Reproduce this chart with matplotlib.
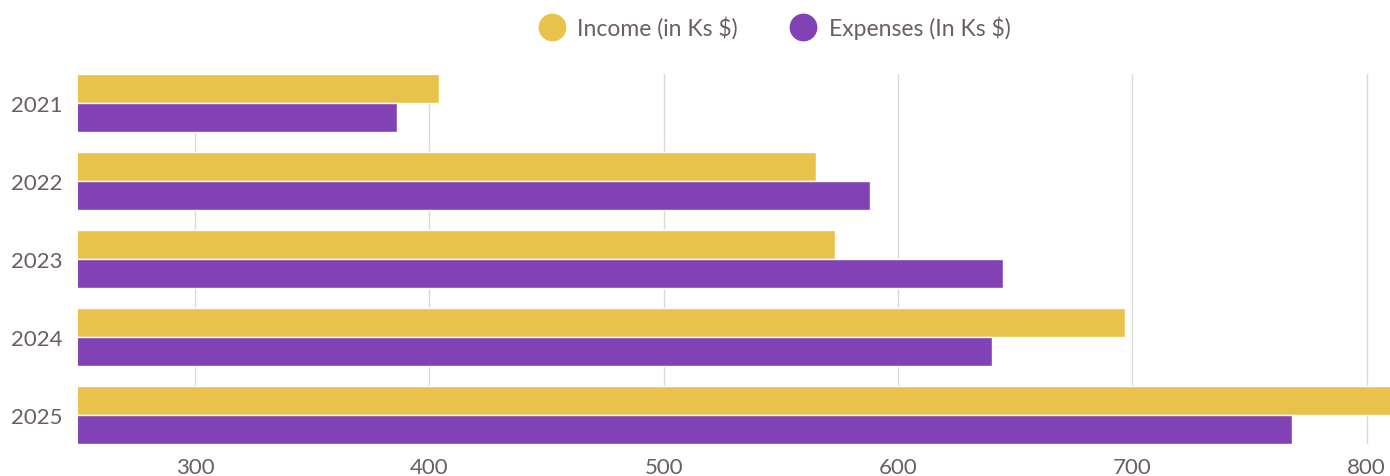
import matplotlib
matplotlib.use("Agg")
import matplotlib.pyplot as plt
import numpy as np

years = ["2021", "2022", "2023", "2024", "2025"]
income = [404, 565, 573, 697, 812]
expenses = [386, 588, 645, 640, 768]
xticks = [300, 400, 500, 600, 700, 800]

c_inc = "#E9C24B"
c_exp = "#8142B5"
txt = "#6b5e62"

plt.rcParams['font.family'] = ['Lato', 'DejaVu Sans']

fig = plt.figure(figsize=(13.9, 4.77), dpi=100)
ax = fig.add_axes([78/1390, 1-445/477, 1-78/1390, (445-75)/477])

y = np.arange(len(years))
h = 0.37
ax.barh(y - h/2, income, height=h, color=c_inc, edgecolor="white", linewidth=1, label="Income (in Ks $)", zorder=3)
ax.barh(y + h/2, expenses, height=h, color=c_exp, edgecolor="white", linewidth=1, label="Expenses (In Ks $)", zorder=3)

ax.set_xlim(250, 810)
ax.set_ylim(4 + 29/78, -29/78)
ax.set_xticks(xticks)
ax.set_yticks(y)
ax.set_yticklabels(years)
ax.tick_params(axis='both', length=0, labelsize=16, colors=txt)
ax.tick_params(axis='y', pad=11)
ax.tick_params(axis='x', pad=9)
ax.grid(axis='x', color="#d9d9d9", linewidth=1, zorder=0)
for s in ax.spines.values():
    s.set_visible(False)

leg = fig.legend(loc='center', bbox_to_anchor=(775/1390, 1-28/477), ncol=2, frameon=False,
                 handles=[plt.Line2D([], [], marker='o', ls='', ms=19, color=c_inc),
                          plt.Line2D([], [], marker='o', ls='', ms=19, color=c_exp)],
                 labels=["Income (in Ks $)", "Expenses (In Ks $)"],
                 fontsize=16.5, handlelength=1.1, handletextpad=0.55, columnspacing=2.3, labelcolor=txt)

fig.savefig("out.png", dpi=100)
